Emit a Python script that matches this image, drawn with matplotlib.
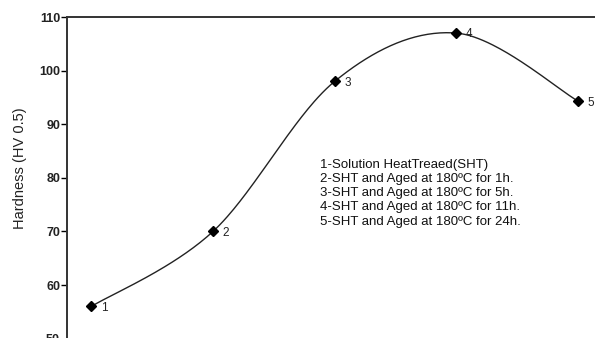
import numpy as np
import matplotlib.pyplot as plt

plt.rcParams['font.family'] = ['Liberation Sans', 'DejaVu Sans']

# sample number and hardness
samples = [1, 2, 3, 4, 5]
hardness = [56, 70, 98, 107, 94.3]
point_labels = ["1", "2", "3", "4", "5"]

legend_lines = [
    "1-Solution HeatTreaed(SHT)",
    "2-SHT and Aged at 180ºC for 1h.",
    "3-SHT and Aged at 180ºC for 5h.",
    "4-SHT and Aged at 180ºC for 11h.",
    "5-SHT and Aged at 180ºC for 24h.",
]


def smooth_curve(x, y, n=60):
    # Catmull-Rom style bezier through the points (like a spreadsheet "smoothed line")
    p = np.column_stack([x, y]).astype(float)
    pts = [p[0]] + list(p) + [p[-1]]
    out = []
    for i in range(1, len(pts) - 2):
        p0, p1, p2, p3 = pts[i - 1], pts[i], pts[i + 1], pts[i + 2]
        c1 = p1 + (p2 - p0) / 6
        c2 = p2 - (p3 - p1) / 6
        t = np.linspace(0, 1, n)[:, None]
        seg = ((1 - t) ** 3 * p1 + 3 * (1 - t) ** 2 * t * c1
               + 3 * (1 - t) * t ** 2 * c2 + t ** 3 * p2)
        out.append(seg)
    out = np.vstack(out)
    return out[:, 0], out[:, 1]


fig = plt.figure(figsize=(5.95, 3.38), dpi=100)
ax = fig.add_axes([0.1126, -0.0018, 0.90, 0.9515])

sx, sy = smooth_curve(samples, hardness)
ax.plot(sx, sy, color="#222222", lw=1.0)
ax.plot(samples, hardness, "D", color="black", ms=5)

for xi, yi, lab in zip(samples, hardness, point_labels):
    ax.annotate(lab, (xi, yi), xytext=(7, -1), textcoords="offset points",
                va="center", ha="left", fontsize=8.5, color="#222222")

ax.text(0.472, 0.56, "\n".join(legend_lines), transform=ax.transAxes,
        fontsize=9.5, va="top", ha="left", linespacing=1.25, color="#111111")

ax.set_xlim(0.8, 5.2)
ax.set_ylim(50, 110)
ax.set_yticks(np.arange(50, 111, 10))
ax.tick_params(axis="y", length=4, width=1, labelsize=9, pad=1,
               labelcolor="#222222")
for lbl in ax.get_yticklabels():
    lbl.set_fontweight("bold")
ax.set_xticks([])

for side in ["bottom", "right"]:
    ax.spines[side].set_visible(False)
for side in ["left", "top"]:
    ax.spines[side].set_linewidth(1.4)
    ax.spines[side].set_color("#333333")

ax.set_ylabel("Hardness (HV 0.5)", fontsize=10.5, color="#222222")
ax.yaxis.set_label_coords(-0.075, 0.53)

fig.savefig("out.png", dpi=100)
